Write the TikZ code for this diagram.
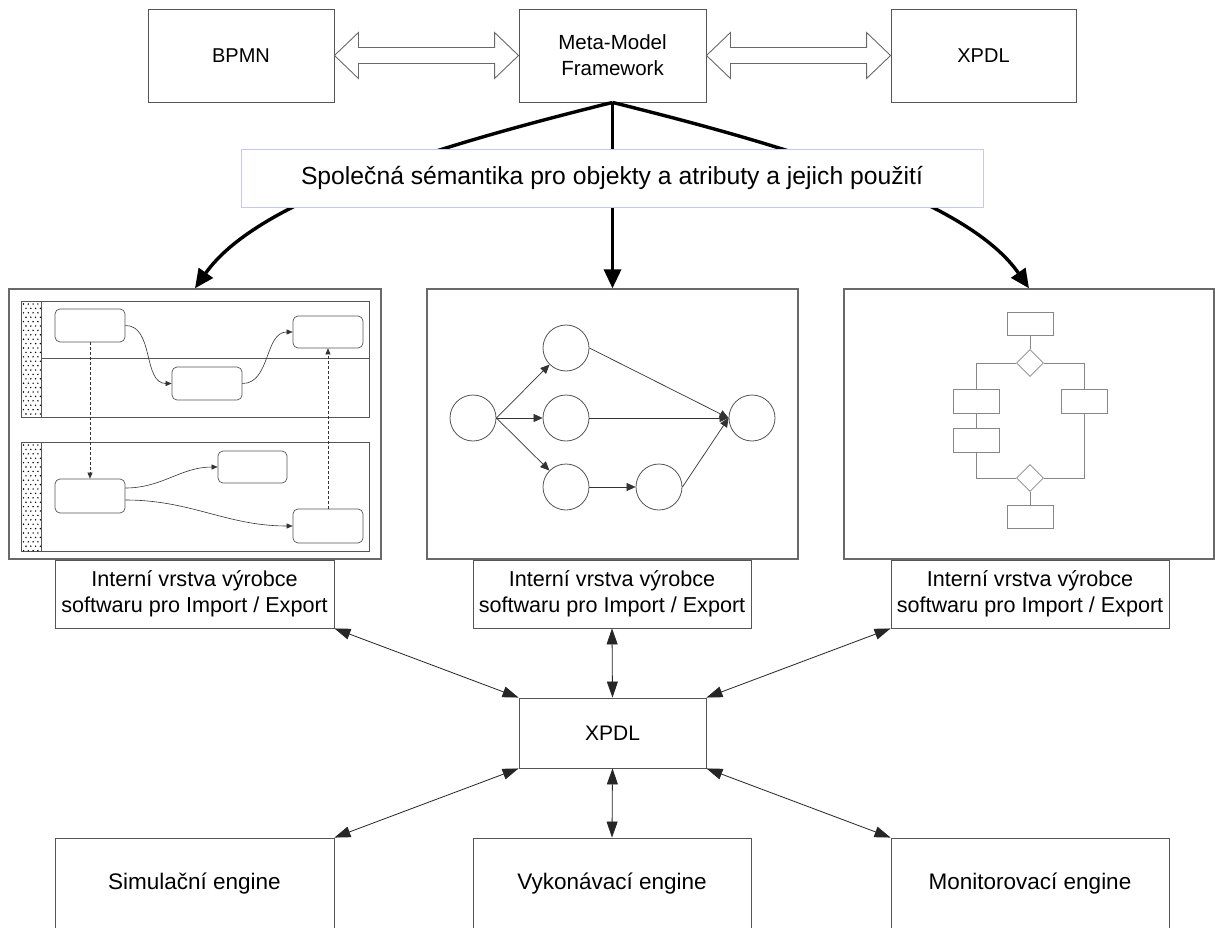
\documentclass[tikz,border=0pt]{standalone}
\usepackage{fontspec}
\setmainfont{Liberation Sans}
\usetikzlibrary{arrows.meta,calc,shapes.geometric}
\definecolor{edge}{RGB}{85,85,85}
\definecolor{frame}{RGB}{105,105,105}
\definecolor{semline}{RGB}{200,200,235}

\begin{document}
\begin{tikzpicture}[x=1pt,y=-1pt,
  box/.style={draw=edge,line width=0.9pt,fill=white,inner sep=0pt,align=center,
              font=\fontsize{20}{26}\selectfont},
  layer/.style={box,font=\fontsize{21.6}{26}\selectfont},
  engine/.style={box,font=\fontsize{22.5}{27}\selectfont},
  panel/.style={draw=frame,line width=1.3pt,fill=white,inner sep=0pt},
  hollow/.style={draw=frame,line width=0.9pt,fill=white,line join=miter},
  thick arrow/.style={line width=3.4pt,-{Triangle[length=19pt,width=17pt]}},
  link/.style={line width=0.8pt,draw=black!85,
               {Triangle[length=16pt,width=11pt]}-{Triangle[length=16pt,width=11pt]}},
  task/.style={draw=edge,line width=0.7pt,rounded corners=5pt,fill=white,inner sep=0pt,
               minimum width=70pt,minimum height=33pt},
  flow/.style={line width=0.6pt,draw=black!80,-{Triangle[length=6pt,width=5pt]}},
  msg/.style={flow,dashed,dash pattern=on 3pt off 2pt},
  event/.style={circle,draw=edge,line width=0.8pt,minimum size=46pt,inner sep=0pt},
  seq/.style={line width=0.7pt,draw=black!80,-{Triangle[length=9pt,width=8pt]}},
  act/.style={draw=frame!80,line width=0.8pt,inner sep=0pt,minimum width=46pt,minimum height=23pt},
  gate/.style={diamond,draw=frame!80,line width=0.8pt,inner sep=0pt,minimum width=27pt,minimum height=27pt},
  wire/.style={draw=frame!80,line width=0.8pt}
]
\clip (0,0) rectangle (1215,928);
\fill[white] (0,0) rectangle (1215,928);

% top row
\node[box,minimum width=186pt,minimum height=93pt] (bpmn) at (241,55.5) {BPMN};
\node[box,minimum width=187pt,minimum height=93pt,font=\fontsize{20.5}{26}\selectfont] (meta) at (612.5,55.5) {Meta-Model\\Framework};
\node[box,minimum width=185pt,minimum height=93pt] (xtop) at (983.5,55.5) {XPDL};

% hollow two-way arrows
\draw[hollow] (bpmn.east) -- ++(24,-23) -- ++(0,15) -- ($(meta.west)+(-24,-8)$) -- ++(0,-15)
  -- (meta.west) -- ++(-24,23) -- ++(0,-15) -- ($(bpmn.east)+(24,8)$) -- ++(0,15) -- cycle;
\draw[hollow] (meta.east) -- ++(24,-23) -- ++(0,15) -- ($(xtop.west)+(-24,-8)$) -- ++(0,-15)
  -- (xtop.west) -- ++(-24,23) -- ++(0,-15) -- ($(meta.east)+(24,8)$) -- ++(0,15) -- cycle;

% three model panels
\node[panel,minimum width=372pt,minimum height=270pt] (lp) at (195,424) {};
\node[panel,minimum width=371pt,minimum height=270pt] (mp) at (612.5,424) {};
\node[panel,minimum width=370pt,minimum height=270pt] (rp) at (1029,424) {};

% thick arrows from the framework to the panels
\draw[thick arrow] (meta.south) .. controls (420,150) and (255,203) .. (lp.north);
\draw[thick arrow] (meta.south) -- (mp.north);
\draw[thick arrow] (meta.south) .. controls (805,150) and (970,203) .. (rp.north);

% common semantics banner
\node[draw=semline,line width=0.8pt,fill=white,minimum width=742pt,minimum height=58pt,inner sep=0pt,
      font=\fontsize{24.7}{30}\selectfont] (sem) at (612,178)
  {Společná sémantika pro objekty a atributy a jejich použití};

% ---- left panel: swimlane process ----
\draw[edge,line width=0.8pt] (21,301) rectangle (369,417);
\draw[edge,line width=0.8pt] (41,301) -- (41,417);
\draw[edge,line width=0.8pt] (41,358) -- (369,358);
\draw[edge,line width=0.8pt] (21,442) rectangle (369,551);
\draw[edge,line width=0.8pt] (41,442) -- (41,551);
\foreach \r in {0,...,25}{
  \pgfmathsetmacro{\yy}{304+\r*4.4}
  \pgfmathsetmacro{\xo}{mod(\r,2)*2.5}
  \foreach \c in {0,1,2,3}{
    \fill[black] ({23.5+\xo+\c*4.8},\yy) circle (0.8pt);
  }
}
\foreach \r in {0,...,24}{
  \pgfmathsetmacro{\yy}{445+\r*4.4}
  \pgfmathsetmacro{\xo}{mod(\r,2)*2.5}
  \foreach \c in {0,1,2,3}{
    \fill[black] ({23.5+\xo+\c*4.8},\yy) circle (0.8pt);
  }
}
\node[task] (ta) at (90,325.5) {};
\node[task] (tb) at (207,383.5) {};
\node[task,minimum height=32pt] (tc) at (328,332) {};
\node[task,minimum height=34pt] (td) at (90,496) {};
\node[task,minimum width=69pt,minimum height=32pt] (te) at (252.5,467) {};
\node[task,minimum height=34pt] (tf) at (328,526) {};
\draw[flow] (ta.east) to[out=0,in=180] (tb.west);
\draw[flow] (tb.east) to[out=0,in=180] (tc.west);
\draw[msg] (ta.south) -- (td.north);
\draw[msg] (tf.north) -- (tc.south);
\draw[flow] ([yshift=8pt]td.east) to[out=0,in=180] (te.west);
\draw[flow] ([yshift=-4pt]td.east) to[out=0,in=180] (tf.west);

% ---- middle panel: network of events ----
\node[event] (c1) at (473,418) {};
\node[event] (c2) at (566,348) {};
\node[event] (c3) at (566,418) {};
\node[event] (c4) at (566,487) {};
\node[event] (c5) at (659,487) {};
\node[event] (c6) at (752,418) {};
\draw[seq] (c1.east) -- (c2);
\draw[seq] (c1.east) -- (c3);
\draw[seq] (c1.east) -- (c4);
\draw[seq] (c2.east) -- (c6.west);
\draw[seq] (c3.east) -- (c6.west);
\draw[seq] (c4.east) -- (c5.west);
\draw[seq] (c5.east) -- (c6.west);

% ---- right panel: flowchart ----
\node[act] (f1) at (1030,324) {};
\node[gate] (g1) at (1030,363) {};
\node[act,minimum height=24pt] (f2) at (976,401) {};
\node[act,minimum height=24pt] (f3) at (976,440) {};
\node[act,minimum height=24pt] (f4) at (1084,401) {};
\node[gate] (g2) at (1030,478) {};
\node[act] (f5) at (1030,516.5) {};
\draw[wire] (f1) -- (g1);
\draw[wire] (g1.west) -| (f2.north);
\draw[wire] (g1.east) -| (f4.north);
\draw[wire] (f2) -- (f3);
\draw[wire] (f3.south) |- (g2.west);
\draw[wire] (f4.south) |- (g2.east);
\draw[wire] (g2) -- (f5);

% vendor layers
\node[layer,minimum width=279pt,minimum height=68pt] (il) at (194.5,594) {Interní vrstva výrobce\\softwaru pro Import / Export};
\node[layer,minimum width=278pt,minimum height=68pt] (im) at (612,594) {Interní vrstva výrobce\\softwaru pro Import / Export};
\node[layer,minimum width=278pt,minimum height=68pt] (ir) at (1030,594) {Interní vrstva výrobce\\softwaru pro Import / Export};

% XPDL hub
\node[box,minimum width=187pt,minimum height=70pt,font=\fontsize{21}{26}\selectfont] (hub) at (612.5,733) {XPDL};

% engines
\node[engine,minimum width=279pt,minimum height=92pt] (sim) at (194.5,884) {Simulační engine};
\node[engine,minimum width=278pt,minimum height=92pt] (run) at (612,884) {Vykonávací engine};
\node[engine,minimum width=278pt,minimum height=92pt] (mon) at (1030,884) {Monitorovací engine};

% exchange links
\draw[link] (il.south east) -- (hub.north west);
\draw[link] (im.south) -- (hub.north);
\draw[link] (ir.south west) -- (hub.north east);
\draw[link] (hub.south west) -- (sim.north east);
\draw[link] (hub.south) -- (run.north);
\draw[link] (hub.south east) -- (mon.north west);
\end{tikzpicture}
\end{document}
